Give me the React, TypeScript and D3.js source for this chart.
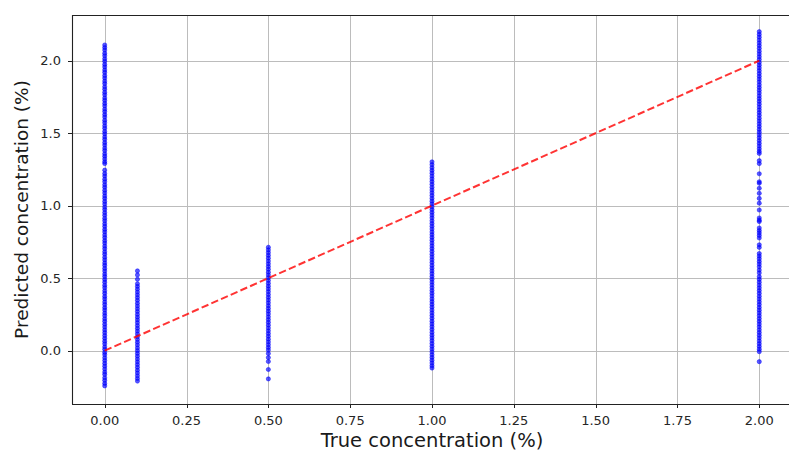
import React from "react";
import * as d3 from "d3";

// True concentration levels and the predictions made at each level (%)
const trueLevels = [0, 0.1, 0.5, 1.0, 2.0];

const predAt000 = [
  -0.243, -0.226, -0.205, -0.187, -0.164, -0.148, -0.127, -0.107, -0.088, -0.068, -0.049, -0.028,
  -0.012, 0.009, 0.026, 0.047, 0.065, 0.085, 0.104, 0.124, 0.143, 0.163, 0.182, 0.202, 0.22, 0.241,
  0.259, 0.28, 0.297, 0.318, 0.336, 0.357, 0.374, 0.395, 0.413, 0.434, 0.451, 0.472, 0.49, 0.511,
  0.528, 0.549, 0.567, 0.588, 0.605, 0.626, 0.644, 0.665, 0.682, 0.703, 0.721, 0.742, 0.759, 0.78,
  0.798, 0.819, 0.836, 0.857, 0.875, 0.896, 0.913, 0.934, 0.952, 0.973, 0.99, 1.011, 1.029, 1.05,
  1.067, 1.088, 1.106, 1.127, 1.144, 1.165, 1.183, 1.204, 1.221, 1.245,
  1.29, 1.303, 1.322, 1.341, 1.358, 1.38, 1.397, 1.418, 1.435, 1.457, 1.474, 1.495, 1.512, 1.534,
  1.551, 1.572, 1.589, 1.611, 1.628, 1.649, 1.666, 1.688, 1.705, 1.726, 1.743, 1.765, 1.782, 1.803,
  1.82, 1.842, 1.859, 1.88, 1.897, 1.919, 1.936, 1.957, 1.974, 1.996, 2.013, 2.034, 2.051, 2.073,
  2.09, 2.108,
];

const predAt010 = [
  0.55, 0.522, 0.492, 0.461, 0.443, 0.424, 0.404, 0.385, 0.366, 0.347, 0.327, 0.308, 0.289, 0.27,
  0.25, 0.231, 0.212, 0.193, 0.173, 0.154, 0.135, 0.116, 0.096, 0.077, 0.058, 0.039, 0.019, 0.0,
  -0.019, -0.038, -0.058, -0.077, -0.096, -0.115, -0.135, -0.154, -0.173, -0.192, -0.21,
];

const predAt050 = [
  0.713, 0.695, 0.676, 0.657, 0.638, 0.618, 0.599, 0.58, 0.561, 0.541, 0.522, 0.503, 0.484, 0.464,
  0.445, 0.426, 0.407, 0.387, 0.368, 0.349, 0.33, 0.31, 0.291, 0.272, 0.253, 0.233, 0.214, 0.195,
  0.176, 0.156, 0.137, 0.118, 0.099, 0.079, 0.06, 0.041, 0.022, 0.004, -0.02, -0.048, -0.075,
  -0.13, -0.195,
];

const predAt100 = [
  1.302, 1.283, 1.262, 1.243, 1.224, 1.204, 1.185, 1.166, 1.147, 1.127, 1.108, 1.089, 1.07, 1.05,
  1.031, 1.012, 0.993, 0.973, 0.954, 0.935, 0.916, 0.896, 0.877, 0.858, 0.839, 0.819, 0.8, 0.781,
  0.762, 0.742, 0.723, 0.704, 0.685, 0.665, 0.646, 0.627, 0.608, 0.588, 0.569, 0.55, 0.531, 0.511,
  0.492, 0.473, 0.454, 0.434, 0.415, 0.396, 0.377, 0.357, 0.338, 0.319, 0.3, 0.28, 0.261, 0.242,
  0.223, 0.203, 0.184, 0.165, 0.146, 0.126, 0.107, 0.088, 0.069, 0.049, 0.03, 0.011, -0.008,
  -0.028, -0.047, -0.066, -0.085, -0.104, -0.12,
];

const predAt200 = [
  2.2, 2.181, 2.162, 2.142, 2.123, 2.104, 2.085, 2.065, 2.046, 2.027, 2.008, 1.988, 1.969, 1.95,
  1.931, 1.911, 1.892, 1.873, 1.854, 1.834, 1.815, 1.796, 1.777, 1.757, 1.738, 1.719, 1.7, 1.68,
  1.661, 1.642, 1.623, 1.603, 1.584, 1.565, 1.546, 1.526, 1.507, 1.488, 1.469, 1.449, 1.43, 1.411,
  1.392, 1.374, 1.36,
  1.31, 1.29, 1.22, 1.165, 1.155, 1.12, 1.085, 1.05, 1.017, 0.97, 0.915, 0.9, 0.89, 0.846, 0.828,
  0.812, 0.795, 0.777, 0.73, 0.712, 0.67, 0.652, 0.634, 0.615, 0.597, 0.578, 0.556, 0.536,
  0.51, 0.491, 0.472, 0.452, 0.433, 0.414, 0.395, 0.375, 0.356, 0.337, 0.318, 0.298, 0.279, 0.26,
  0.241, 0.221, 0.202, 0.183, 0.164, 0.144, 0.125, 0.106, 0.087, 0.067, 0.048, 0.029, 0.01,
  -0.007, -0.076,
];

const predictions = [predAt000, predAt010, predAt050, predAt100, predAt200];

const xTicks = [0, 0.25, 0.5, 0.75, 1.0, 1.25, 1.5, 1.75, 2.0];
const yTicks = [0, 0.5, 1.0, 1.5, 2.0];

const xLabel = "True concentration (%)";
const yLabel = "Predicted concentration (%)";

export default function App() {
  const width = 789;
  const height = 451;
  const left = 72;
  const right = 792;
  const top = 15;
  const bottom = 404;

  const x = d3.scaleLinear().domain([-0.1, 2.1]).range([left, right]);
  const y = d3.scaleLinear().domain([-0.368, 2.315]).range([bottom, top]);

  const points = trueLevels.flatMap((t, i) =>
    predictions[i].map((p) => ({ t, p }))
  );

  const crisp = (v: number) => Math.round(v) + 0.5;
  const font = "'DejaVu Sans', sans-serif";
  const fmtX = d3.format(".2f");
  const fmtY = d3.format(".1f");

  const idealLine = d3
    .line<[number, number]>()
    .x((d) => x(d[0]))
    .y((d) => y(d[1]));

  return (
    <svg
      width={width}
      height={height}
      style={{ position: "absolute", left: 0, top: 0, background: "#fff" }}
    >
      <rect x={0} y={0} width={width} height={height} fill="#fff" />

      {/* grid */}
      <g stroke="#bcbcbc" strokeWidth={1}>
        {xTicks.map((t) => (
          <line key={"gx" + t} x1={crisp(x(t))} x2={crisp(x(t))} y1={top} y2={bottom} />
        ))}
        {yTicks.map((t) => (
          <line key={"gy" + t} x1={left} x2={right} y1={crisp(y(t))} y2={crisp(y(t))} />
        ))}
      </g>

      {/* predictions */}
      <g fill="#0000ff" fillOpacity={0.65} stroke="#0000ff" strokeOpacity={0.6} strokeWidth={0.8}>
        {points.map((d, i) => (
          <circle key={i} cx={x(d.t)} cy={y(d.p)} r={2.1} />
        ))}
      </g>

      {/* ideal y = x line */}
      <path
        d={idealLine([
          [0, 0],
          [2, 2],
        ]) ?? ""}
        fill="none"
        stroke="#ff0000"
        strokeOpacity={0.8}
        strokeWidth={2}
        strokeDasharray="7.4 3.2"
      />

      {/* spines */}
      <g stroke="#222" strokeWidth={1.1} fill="none">
        <line x1={crisp(left)} x2={crisp(left)} y1={top} y2={bottom + 0.5} />
        <line x1={left} x2={right} y1={crisp(top)} y2={crisp(top)} />
        <line x1={left} x2={right} y1={crisp(bottom)} y2={crisp(bottom)} />
      </g>

      {/* ticks and tick labels */}
      <g fontFamily={font} fontSize={13} fill="#262626">
        {xTicks.map((t) => (
          <g key={"tx" + t}>
            <line
              x1={crisp(x(t))}
              x2={crisp(x(t))}
              y1={bottom}
              y2={bottom + 4}
              stroke="#222"
            />
            <text x={x(t)} y={425} textAnchor="middle">
              {fmtX(t)}
            </text>
          </g>
        ))}
        {yTicks.map((t) => (
          <g key={"ty" + t}>
            <line
              x1={left - 4}
              x2={left}
              y1={crisp(y(t))}
              y2={crisp(y(t))}
              stroke="#222"
            />
            <text x={left - 11} y={y(t)} dy="0.36em" textAnchor="end">
              {fmtY(t)}
            </text>
          </g>
        ))}
      </g>

      {/* axis titles */}
      <text
        x={(left + right) / 2}
        y={447}
        textAnchor="middle"
        fontFamily={font}
        fontSize={19.5}
        fill="#1a1a1a"
      >
        {xLabel}
      </text>
      <text
        transform={`translate(28,${(top + bottom) / 2}) rotate(-90)`}
        textAnchor="middle"
        fontFamily={font}
        fontSize={18.5}
        fill="#1a1a1a"
      >
        {yLabel}
      </text>
    </svg>
  );
}
